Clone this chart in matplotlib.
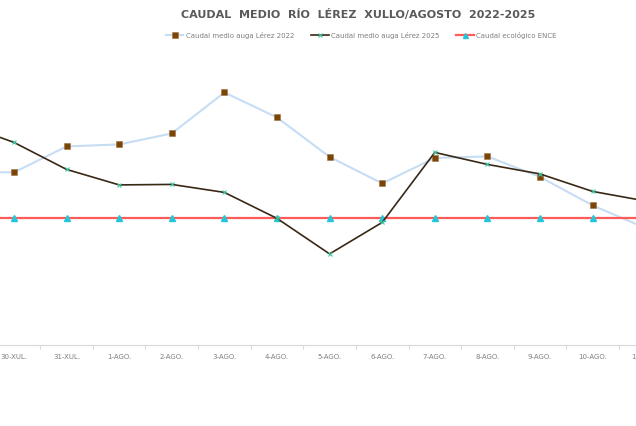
import matplotlib.pyplot as plt

# categories (first and last partly outside the picture, as in the source)
dias = ["29-XUL.", "30-XUL.", "31-XUL.", "1-AGO.", "2-AGO.", "3-AGO.", "4-AGO.",
        "5-AGO.", "6-AGO.", "7-AGO.", "8-AGO.", "9-AGO.", "10-AGO.", "11-AGO."]

caudal_2022 = [3.46, 3.45, 3.97, 4.01, 4.23, 5.05, 4.55, 3.76, 3.23, 3.74, 3.77, 3.36, 2.79, 2.34]
caudal_2025 = [4.43, 4.05, 3.51, 3.20, 3.21, 3.05, 2.53, 1.82, 2.45, 3.85, 3.61, 3.42, 3.07, 2.88]
caudal_ence = [2.54] * len(dias)

gris = "#595959"

fig = plt.figure(figsize=(6.36, 4.27), dpi=100)
ax = fig.add_axes([-0.1, 0.19, 1.2, 0.693])

x = list(range(len(dias)))
l1, = ax.plot(x, caudal_2022, color="#C6DDF3", lw=1.5, marker="s", ms=5,
              mfc="#7B4506", mec="#A07040", mew=0.4, zorder=2,
              label="Caudal medio auga Lérez 2022")
l3, = ax.plot(x, caudal_ence, color="#FF5B5B", lw=1.6, marker="^", ms=4.5,
              mfc="#22C6D6", mec="#22C6D6", zorder=3,
              label="Caudal ecológico ENCE")
l2, = ax.plot(x, caudal_2025, color="#3A2816", lw=1.2, marker="x", ms=3.5,
              mec="#3CCBA5", mew=0.8, zorder=4,
              label="Caudal medio auga Lérez 2025")

ax.set_xlim(-0.475, 14.034)
ax.set_ylim(0, 5.92)

for s in ["top", "right", "left"]:
    ax.spines[s].set_visible(False)
ax.spines["bottom"].set_color("#D9D9D9")
ax.spines["bottom"].set_linewidth(0.8)
ax.set_yticks([])

ax.set_xticks(x)
ax.set_xticklabels(dias, fontsize=5, color="#7F7F7F")
ax.tick_params(axis="x", which="major", length=0, pad=6)
ax.set_xticks([i + 0.5 for i in x], minor=True)
ax.tick_params(axis="x", which="minor", length=3, color="#D9D9D9", width=0.8)

fig.text(0.563, 0.965, "CAUDAL  MEDIO  RÍO  LÉREZ  XULLO/AGOSTO  2022-2025",
         ha="center", va="center", fontsize=8, fontweight="bold", color=gris)

fig.legend(handles=[l1, l2, l3], loc="center", bbox_to_anchor=(0.568, 0.916),
           ncol=3, frameon=False, fontsize=5, labelcolor="#7F7F7F",
           handlelength=2.5, columnspacing=2.5, handletextpad=0.3,
           markerscale=0.8)

fig.savefig("out.png", dpi=100)
